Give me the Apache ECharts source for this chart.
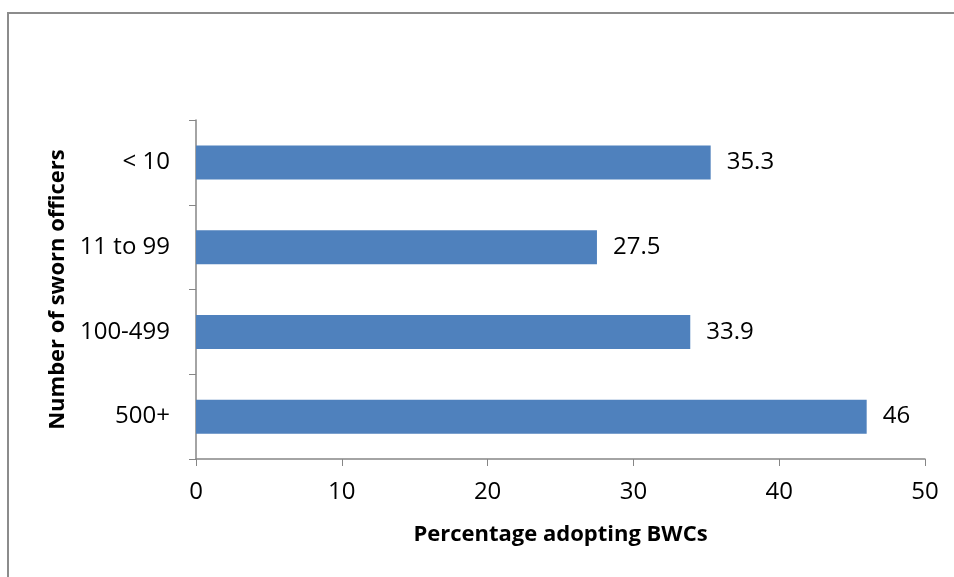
<!DOCTYPE html>
<html>
<head>
<meta charset="utf-8">
<script src="https://cdn.jsdelivr.net/npm/echarts@6/dist/echarts.min.js"></script>
<style>
  html, body { margin: 0; padding: 0; background: #fff; }
  #chart { width: 954px; height: 577px; }
</style>
</head>
<body>
<div id="chart"></div>
<script>
// agency size groups, top to bottom as shown
var categories = ["< 10", "11 to 99", "100-499", "500+"];
var percentAdopting = [35.3, 27.5, 33.9, 46];
var xTicks = [0, 10, 20, 30, 40, 50];

var font = "'Open Sans', 'Liberation Sans', sans-serif";
var axisGray = "#868686";

var chartDom = document.getElementById("chart");
var myChart = echarts.init(chartDom);
var option;

option = {
  animation: false,
  textStyle: { fontFamily: font },
  graphic: [
    {
      type: "rect",
      shape: { x: 8, y: 13, width: 980, height: 600 },
      style: { fill: "none", stroke: "#8c8c8c", lineWidth: 2 },
      silent: true
    }
  ],
  grid: { left: 196, right: 29, top: 120, bottom: 118, containLabel: false },
  xAxis: {
    type: "value",
    min: xTicks[0],
    max: xTicks[xTicks.length - 1],
    interval: 10,
    splitLine: { show: false },
    axisLine: { show: true, lineStyle: { color: axisGray, width: 1.5 } },
    axisTick: { show: true, length: 7, inside: false, lineStyle: { color: axisGray } },
    axisLabel: { color: "#000", fontSize: 24, margin: 21, fontFamily: font },
    name: "Percentage adopting BWCs",
    nameLocation: "middle",
    nameGap: 65,
    nameTextStyle: { color: "#000", fontSize: 22, fontWeight: "bold", fontFamily: font }
  },
  yAxis: {
    type: "category",
    data: categories,
    inverse: true,
    axisLine: { show: true, lineStyle: { color: axisGray, width: 1.5 } },
    axisTick: { show: true, length: 7, lineStyle: { color: axisGray } },
    axisLabel: { color: "#000", fontSize: 24, margin: 26, fontFamily: font },
    name: "Number of sworn officers",
    nameLocation: "middle",
    nameGap: 126,
    nameRotate: 90,
    nameTextStyle: { color: "#000", fontSize: 22, fontWeight: "bold", fontFamily: font }
  },
  series: [
    {
      type: "bar",
      data: percentAdopting,
      barWidth: 34,
      itemStyle: { color: "#4F81BD" },
      label: {
        show: true,
        position: "right",
        distance: 16,
        color: "#000",
        fontSize: 24,
        fontFamily: font
      }
    }
  ]
};

option && myChart.setOption(option);
</script>
</body>
</html>
